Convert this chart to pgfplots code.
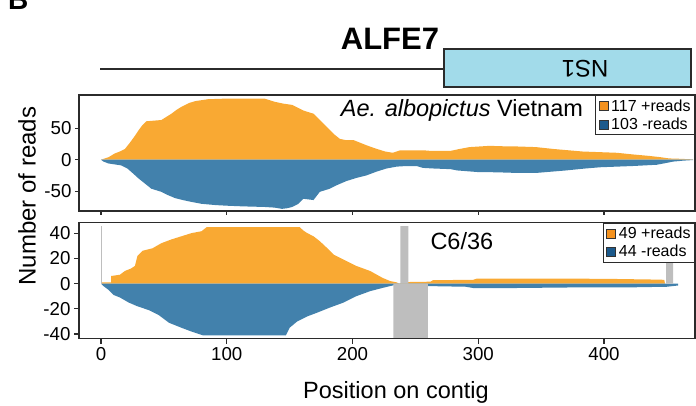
\documentclass[border=0pt]{standalone}
\usepackage{fontspec}
\setmainfont{Liberation Sans}
\usepackage{pgfplots}
\pgfplotsset{compat=1.18}
\definecolor{orA}{HTML}{F9A933}
\definecolor{blA}{HTML}{4281AC}
\definecolor{orL}{HTML}{F4921F}
\definecolor{blL}{HTML}{1C5A8C}
\definecolor{grA}{HTML}{BEBEBE}
\definecolor{nsblue}{HTML}{A2DBEA}
\definecolor{frame}{HTML}{2B2B2B}
\pgfplotsset{
  common/.style={
    scale only axis, width=616pt, height=116pt,
    xmin=-17.5, xmax=472.4,
    axis line style={draw=frame, line width=1.2pt},
    tick style={draw=frame, line width=1.2pt},
    tick align=outside, major tick length=5pt,
    xtick={0,100,200,300,400},
    xtick pos=lower, ytick pos=left,
    /pgf/number format/assume math mode=true,
    tick label style={font=\fontsize{18.7}{20}\selectfont},
    axis on top,
    legend style={at={(1,1)}, anchor=north east, draw=frame, line width=1.3pt,
      font=\fontsize{16}{17}\selectfont, inner sep=2.8pt, row sep=3.3pt,
      nodes={inner sep=1pt},
      /tikz/every odd column/.style={column sep=2pt}},
    legend cell align=left,
  },
  orimg/.style={legend image code/.code={\draw[fill=orL, draw=black!80, line width=0.6pt] (0pt,-4.5pt) rectangle (9pt,4.5pt);}},
  blimg/.style={legend image code/.code={\draw[fill=blL, draw=black!80, line width=0.6pt] (0pt,-4.5pt) rectangle (9pt,4.5pt);}},
}
\begin{document}
\begin{tikzpicture}
\useasboundingbox (0pt,-406pt) rectangle (696pt,0pt);
\node[anchor=base west, inner sep=0, font=\fontsize{28}{30}\selectfont\bfseries] at (8pt,-10pt) {B};
\node[font=\fontsize{31}{34}\selectfont\bfseries] at (390pt,-39pt) {ALFE7};
\draw[line width=2pt, frame] (100pt,-69pt) -- (444pt,-69pt);
\draw[line width=2pt, draw=frame, fill=nsblue] (444pt,-49pt) rectangle (691pt,-87.5pt);
\node[rotate=180, font=\fontsize{24}{26}\selectfont] at (585pt,-68.3pt) {NS1};

% top panel
\begin{axis}[common, at={(79pt,-211pt)}, anchor=south west,
  ymin=-81.4, ymax=102.7, ytick={-50,0,50}, xticklabels={}, major tick length=4pt]
\addplot[fill=orA, draw=none, forget plot] coordinates {
(0,0) (3,2) (6,4) (11,10) (15,13) (19,17) (23,27) (27,38) (30,47) (33,55) (36,61) (42,62) (48,63) (52,68) (56,73) (60,79) (64,84) (70,90) (75,93) (85,96) (100,97) (112,97) (130,97) (138,92) (145,89) (152,87) (161,78) (169,73) (173,65) (177,57) (181,49) (185,41) (190,33) (195,31) (201,31) (206,27) (211,23) (218,18) (226,13) (232,11) (238,15) (256,15) (262,14) (278,14) (285,17) (293,20) (309,22) (325,21) (331,21) (346,20) (360,17) (383,13) (410,11) (425,8) (436,6) (445,4) (452,2) (460,1.5) (471,0.5) (471,0)
} \closedcycle;
\addplot[fill=blA, draw=none, forget plot] coordinates {
(0,0) (2,-3) (6,-6) (16,-9) (21,-14) (25,-21) (30,-30) (35,-38) (40,-46) (48,-51) (53,-56) (59,-61) (65,-64) (72,-67) (80,-70) (91,-72) (100,-73) (112,-74) (130,-75) (138,-76) (144,-78) (148,-77) (152,-75) (157,-70) (161,-62) (165,-63) (169,-64) (174,-51) (182,-46) (188,-40) (195,-34) (203,-29) (211,-25) (219,-19) (227,-14) (235,-11) (243,-10) (251,-10) (256,-13) (265,-14) (278,-15) (283,-17) (299,-19.5) (315,-20) (331,-21) (346,-21) (358,-19) (370,-17) (385,-14) (397,-12) (410,-11) (423,-10) (442,-8) (450,-5) (455,-3) (463,-1.5) (471,-0.5) (471,0)
} \closedcycle;
\addlegendimage{orimg}\addlegendentry{117 +reads}
\addlegendimage{blimg}\addlegendentry{103 -reads}
\node[font=\fontsize{23.5}{25}\selectfont] at (axis cs:287,79) {\textit{Ae. albopictus} Vietnam};
\end{axis}

% bottom panel
\begin{axis}[common, at={(79pt,-338.5pt)}, anchor=south west,
  ymin=-43.5, ymax=48.4, ytick={-40,-20,0,20,40}]
\addplot[fill=orA, draw=none, forget plot] coordinates {
(0,0) (1,1) (8,1) (8,6) (15,7) (19,10) (24,12) (27,14) (29,22) (33,26) (41,28) (48,32) (56,35) (64,37.5) (72,40) (80,41.5) (84,44.7) (158,44.7) (161,42) (164,40) (169,37.5) (174,33.6) (180,28) (185,23) (193,19) (203,14) (214,10) (224,4.5) (230,2) (235,1) (237,0) (240,0.8) (246,1.3) (262,1.5) (264,2.7) (296,3) (299,4) (340,4) (400,3.8) (440,3.2) (448,3) (448.5,0)
} \closedcycle;
\addplot[fill=blA, draw=none, forget plot] coordinates {
(0,0) (2,-2) (6,-5) (10,-9) (15,-11) (22,-15) (29,-18) (38,-21) (46,-25) (54,-31) (64,-35) (72,-38) (81,-41) (147,-41) (150,-35) (156,-30) (164,-26) (172,-23) (182,-19) (193,-15) (203,-10) (214,-6) (224,-3.4) (234,-1) (262,-2) (290,-2.5) (296,-3.5) (330,-3.5) (380,-3) (420,-3) (450,-2.5) (459,-1.5) (459,0)
} \closedcycle;
\addplot[fill=grA, draw=none, forget plot] coordinates {(238,0) (238,45.5) (244.5,45.5) (244.5,0)} \closedcycle;
\addplot[fill=grA, draw=none, forget plot] coordinates {(232.5,0) (232.5,-50) (260,-50) (260,0)} \closedcycle;
\addplot[fill=grA, draw=none, forget plot] coordinates {(449.5,0) (449.5,45.5) (455,45.5) (455,0)} \closedcycle;
\addplot[draw=grA, line width=0.8pt, forget plot] coordinates {(0,0) (0,45.5)};
\addlegendimage{orimg}\addlegendentry{49 +reads}
\addlegendimage{blimg}\addlegendentry{44 -reads}
\node[font=\fontsize{23.5}{25}\selectfont] at (axis cs:287,34) {C6/36};
\end{axis}

\node[rotate=90, font=\fontsize{24}{26}\selectfont] at (27pt,-196pt) {Number of reads};
\node[font=\fontsize{23.5}{25}\selectfont] at (396pt,-392pt) {Position on contig};
\end{tikzpicture}
\end{document}
